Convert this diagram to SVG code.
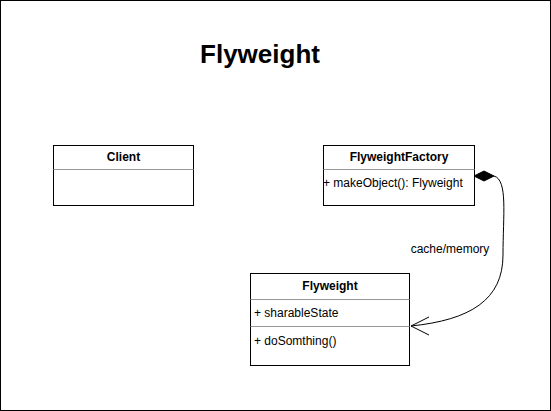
<svg xmlns="http://www.w3.org/2000/svg" width="551" height="411" viewBox="0 0 551 411">
<style>
.box{fill:#fff;stroke:#000;stroke-width:1}
.sep{stroke:#999;stroke-width:1}
text{font-family:"Liberation Sans",Arial,sans-serif;font-size:12px;fill:#000}
.hd{font-weight:bold;text-anchor:middle}
.conn{fill:none;stroke:#000;stroke-width:1}
</style>
<rect x="0.5" y="0.5" width="550" height="410" fill="#fff" stroke="#000"/>
<text x="260" y="63" style="font-size:26px;font-weight:bold" text-anchor="middle">Flyweight</text>
<g id="client">
<rect class="box" x="53.5" y="145.5" width="140" height="60"/>
<line class="sep" x1="53.5" y1="169.5" x2="193.5" y2="169.5"/>
<text class="hd" x="123.5" y="161">Client</text>
</g>
<g id="factory">
<rect class="box" x="323.5" y="145.5" width="151" height="60"/>
<line class="sep" x1="323.5" y1="169.5" x2="474.5" y2="169.5"/>
<text class="hd" x="399" y="161">FlyweightFactory</text>
<text x="323" y="187">+ makeObject(): Flyweight</text>
</g>
<g id="flyweight">
<rect class="box" x="250.5" y="273.5" width="159" height="92"/>
<line class="sep" x1="250.5" y1="299.5" x2="409.5" y2="299.5"/>
<line class="sep" x1="250.5" y1="326.5" x2="409.5" y2="326.5"/>
<text class="hd" x="330" y="290">Flyweight</text>
<text x="254" y="317">+ sharableState</text>
<text x="254" y="345">+ doSomthing()</text>
</g>
<g id="connectors">
<path class="conn" d="M494,176 C508,180 503,215 503,255 C503,300 470,320 411,326"/>
<polygon points="474,176 484,171 494,176 484,181" fill="#000" stroke="#000"/>
<path class="conn" d="M429,317 L411,326 L429,335"/>
<text x="450" y="253" text-anchor="middle">cache/memory</text>
</g>
</svg>
